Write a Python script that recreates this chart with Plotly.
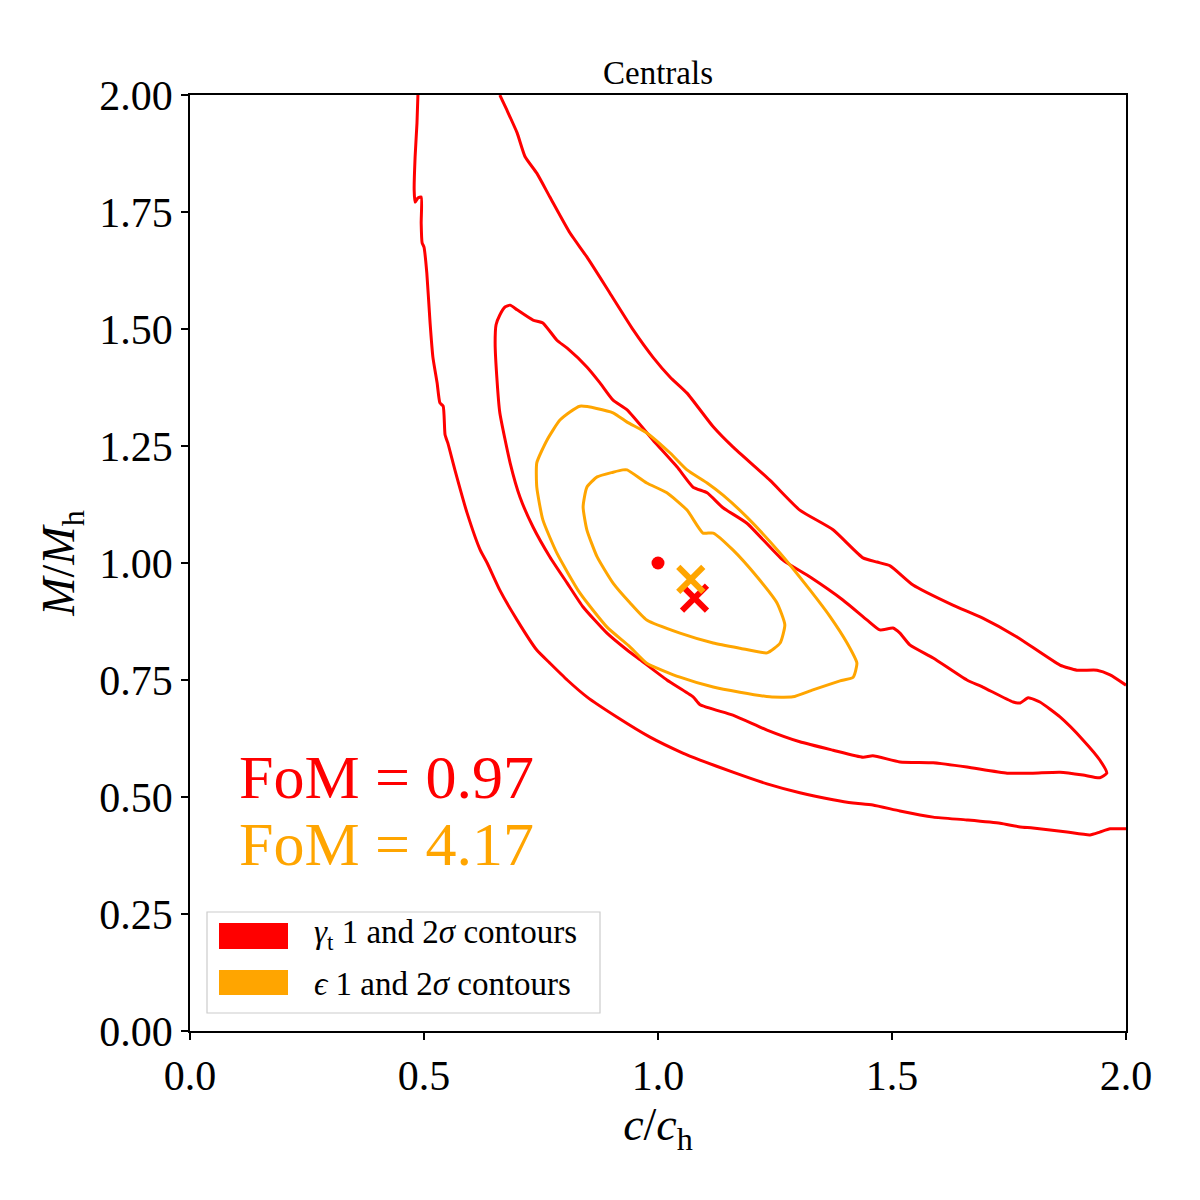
import plotly.graph_objects as go

# ---------------- data ----------------
# gamma_t 2-sigma contour: left branch (top -> bottom -> right edge)
red2_lo_x = [0.487, 0.485, 0.481, 0.479, 0.481, 0.487, 0.494, 0.494, 0.496, 0.500, 0.506, 0.513,
             0.519, 0.528, 0.534, 0.541, 0.545, 0.551, 0.566, 0.592, 0.620, 0.635, 0.662, 0.699,
             0.741, 0.769, 0.806, 0.848, 0.912, 0.983, 1.053, 1.090, 1.160, 1.233, 1.303, 1.374,
             1.417, 1.459, 1.517, 1.588, 1.660, 1.731, 1.774, 1.801, 1.874, 1.923, 1.944, 1.966, 2.000]
red2_lo_y = [2.000, 1.940, 1.868, 1.797, 1.771, 1.780, 1.782, 1.726, 1.684, 1.675, 1.620, 1.513,
             1.440, 1.385, 1.342, 1.335, 1.274, 1.256, 1.199, 1.107, 1.028, 1.000, 0.942, 0.878,
             0.814, 0.786, 0.750, 0.714, 0.671, 0.628, 0.594, 0.579, 0.553, 0.528, 0.509, 0.494,
             0.487, 0.483, 0.470, 0.457, 0.451, 0.444, 0.436, 0.434, 0.425, 0.419, 0.425, 0.432, 0.432]
# gamma_t 2-sigma contour: right branch (top -> right edge)
red2_hi_x = [0.662, 0.677, 0.699, 0.716, 0.741, 0.769, 0.812, 0.848, 0.897, 0.947, 0.989, 1.026,
             1.062, 1.118, 1.160, 1.239, 1.303, 1.374, 1.438, 1.468, 1.496, 1.545, 1.630, 1.694,
             1.767, 1.859, 1.895, 1.938, 1.966, 2.000]
red2_hi_y = [2.000, 1.968, 1.919, 1.868, 1.833, 1.782, 1.705, 1.654, 1.577, 1.498, 1.440, 1.397,
             1.363, 1.291, 1.248, 1.177, 1.113, 1.071, 1.011, 1.002, 0.994, 0.953, 0.910, 0.882,
             0.842, 0.782, 0.771, 0.771, 0.761, 0.739]
# gamma_t 1-sigma contour (closed)
red1_x = [0.684, 0.699, 0.733, 0.754, 0.784, 0.806, 0.848, 0.876, 0.904, 0.934, 0.989, 1.041,
          1.075, 1.105, 1.139, 1.190, 1.267, 1.325, 1.395, 1.447, 1.474, 1.502, 1.517, 1.538,
          1.588, 1.660, 1.694, 1.759, 1.774, 1.791, 1.816, 1.859, 1.908, 1.944, 1.959, 1.944,
          1.908, 1.859, 1.801, 1.746, 1.660, 1.588, 1.517, 1.459, 1.438, 1.374, 1.303, 1.233,
          1.160, 1.090, 1.075, 1.019, 0.962, 0.934, 0.891, 0.840, 0.806, 0.769, 0.733, 0.705,
          0.684, 0.662, 0.656, 0.652, 0.654, 0.662, 0.673, 0.684]
red1_y = [1.551, 1.541, 1.519, 1.513, 1.476, 1.459, 1.419, 1.385, 1.348, 1.327, 1.263, 1.205,
          1.162, 1.150, 1.118, 1.085, 1.006, 0.970, 0.921, 0.878, 0.857, 0.861, 0.850, 0.825,
          0.797, 0.750, 0.735, 0.703, 0.701, 0.712, 0.703, 0.671, 0.622, 0.579, 0.551, 0.541,
          0.547, 0.553, 0.551, 0.551, 0.564, 0.573, 0.575, 0.588, 0.585, 0.600, 0.618, 0.643,
          0.675, 0.697, 0.714, 0.750, 0.793, 0.814, 0.850, 0.906, 0.957, 1.013, 1.077, 1.141,
          1.214, 1.321, 1.391, 1.470, 1.509, 1.530, 1.547, 1.551]
# epsilon 2-sigma contour (closed)
orange2_x = [0.833, 0.904, 0.934, 0.976, 1.026, 1.062, 1.105, 1.139, 1.190, 1.261, 1.325, 1.368,
             1.404, 1.425, 1.417, 1.389, 1.331, 1.288, 1.239, 1.175, 1.118, 1.047, 0.976, 0.940,
             0.891, 0.833, 0.784, 0.754, 0.741, 0.741, 0.763, 0.791, 0.833]
orange2_y = [1.335, 1.321, 1.301, 1.278, 1.235, 1.199, 1.171, 1.145, 1.098, 1.021, 0.942, 0.885,
             0.829, 0.786, 0.756, 0.748, 0.729, 0.714, 0.714, 0.724, 0.735, 0.756, 0.786, 0.821,
             0.863, 0.936, 1.021, 1.092, 1.162, 1.214, 1.263, 1.306, 1.335]
# epsilon 1-sigma contour (closed)
orange1_x = [0.925, 0.904, 0.870, 0.848, 0.840, 0.848, 0.870, 0.904, 0.940, 0.976, 1.047, 1.118,
             1.175, 1.233, 1.261, 1.271, 1.254, 1.212, 1.160, 1.118, 1.096, 1.062, 1.019, 0.976,
             0.934, 0.925]
orange1_y = [1.199, 1.194, 1.184, 1.162, 1.120, 1.071, 1.013, 0.957, 0.915, 0.878, 0.850, 0.829,
             0.818, 0.808, 0.829, 0.868, 0.915, 0.970, 1.028, 1.064, 1.064, 1.113, 1.150, 1.171,
             1.199, 1.199]
# markers
truth_x, truth_y = [1.0], [1.0]
best_red_x, best_red_y = [1.078], [0.925]
best_orange_x, best_orange_y = [1.070], [0.965]
# labels
fom_labels = ["FoM = 0.97", "FoM = 4.17"]
legend_labels = ["<i>γ</i><sub>t</sub> 1 and 2<i>σ</i> contours",
                 "<i>ϵ</i> 1 and 2<i>σ</i> contours"]
title_text = "Centrals"
x_ticks = [0.0, 0.5, 1.0, 1.5, 2.0]
y_ticks = [0.0, 0.25, 0.5, 0.75, 1.0, 1.25, 1.5, 1.75, 2.0]

RED = "#ff0000"
ORANGE = "#ffa500"
FONT = "Liberation Serif"
LW = 3

fig = go.Figure()
line_kw = dict(mode="lines", showlegend=False, hoverinfo="skip")
fig.add_trace(go.Scatter(x=red2_lo_x, y=red2_lo_y, line=dict(color=RED, width=LW, shape="spline", smoothing=0.5), **line_kw))
fig.add_trace(go.Scatter(x=red2_hi_x, y=red2_hi_y, line=dict(color=RED, width=LW, shape="spline", smoothing=0.5), **line_kw))
fig.add_trace(go.Scatter(x=red1_x, y=red1_y, line=dict(color=RED, width=LW, shape="spline", smoothing=0.5), **line_kw))
fig.add_trace(go.Scatter(x=orange2_x, y=orange2_y, line=dict(color=ORANGE, width=LW, shape="spline", smoothing=0.5), **line_kw))
fig.add_trace(go.Scatter(x=orange1_x, y=orange1_y, line=dict(color=ORANGE, width=LW, shape="spline", smoothing=0.5), **line_kw))

fig.add_trace(go.Scatter(x=truth_x, y=truth_y, mode="markers", showlegend=False,
                         marker=dict(color=RED, size=13, line=dict(width=0))))
fig.add_trace(go.Scatter(x=best_red_x, y=best_red_y, mode="markers", showlegend=False,
                         marker=dict(symbol="x-thin", size=25, line=dict(color=RED, width=6))))
fig.add_trace(go.Scatter(x=best_orange_x, y=best_orange_y, mode="markers", showlegend=False,
                         marker=dict(symbol="x-thin", size=25, line=dict(color=ORANGE, width=6))))

# FoM texts
fig.add_annotation(x=0.1, y=0.543, xref="x", yref="y", text=fom_labels[0], showarrow=False,
                   xanchor="left", yanchor="middle", font=dict(family=FONT, size=62, color=RED))
fig.add_annotation(x=0.1, y=0.400, xref="x", yref="y", text=fom_labels[1], showarrow=False,
                   xanchor="left", yanchor="middle", font=dict(family=FONT, size=62, color=ORANGE))

# manual legend (paper coords: px -> (px-190)/936, py -> (1031-py)/936)
def px(xp):
    return (xp - 190) / 936
def py(yp):
    return (1031 - yp) / 936

fig.add_shape(type="rect", xref="paper", yref="paper", x0=px(207), x1=px(600), y0=py(1013), y1=py(912),
              line=dict(color="#cccccc", width=1.2), fillcolor="rgba(255,255,255,0.8)", layer="above")
fig.add_shape(type="rect", xref="paper", yref="paper", x0=px(219), x1=px(288), y0=py(949), y1=py(923),
              line=dict(width=0), fillcolor=RED, layer="above")
fig.add_shape(type="rect", xref="paper", yref="paper", x0=px(219), x1=px(288), y0=py(995), y1=py(970),
              line=dict(width=0), fillcolor=ORANGE, layer="above")
fig.add_annotation(x=px(312), y=py(934), xref="paper", yref="paper", text=legend_labels[0], showarrow=False,
                   xanchor="left", yanchor="middle", font=dict(family=FONT, size=33, color="black"))
fig.add_annotation(x=px(312), y=py(984), xref="paper", yref="paper", text=legend_labels[1], showarrow=False,
                   xanchor="left", yanchor="middle", font=dict(family=FONT, size=33, color="black"))

axis_common = dict(showgrid=False, zeroline=False, showline=True, mirror=True, linecolor="black",
                   linewidth=1.5, ticks="outside", ticklen=7, tickwidth=1.5, tickcolor="black",
                   tickfont=dict(family=FONT, size=42, color="black"))
fig.update_xaxes(range=[0, 2], tickvals=x_ticks, tickformat=".1f",
                 title=dict(text="<i>c</i>/<i>c</i><sub>h</sub>", font=dict(family=FONT, size=46, color="black"), standoff=4),
                 **axis_common)
fig.update_yaxes(range=[0, 2], tickvals=y_ticks, tickformat=".2f",
                 title=dict(text="<i>M</i>/<i>M</i><sub>h</sub>", font=dict(family=FONT, size=46, color="black"), standoff=10),
                 **axis_common)

fig.update_layout(
    width=1200, height=1200,
    margin=dict(l=190, r=74, t=95, b=169, autoexpand=False),
    paper_bgcolor="white", plot_bgcolor="white",
    title=dict(text=title_text, x=0.5, xref="paper", xanchor="center", y=1 - 72 / 1200, yanchor="middle",
               font=dict(family=FONT, size=33, color="black")),
    showlegend=False,
)

fig.write_html("out.html")
